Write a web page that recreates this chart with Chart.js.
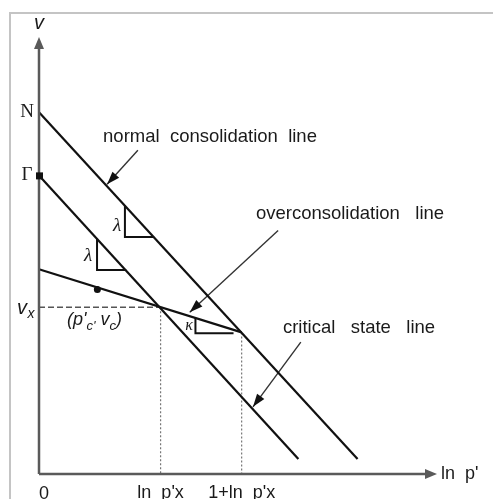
<!DOCTYPE html>
<html>
<head>
<meta charset="utf-8">
<script src="https://cdn.jsdelivr.net/npm/chart.js@4.4.1/dist/chart.umd.min.js"></script>
<style>
  body { margin: 0; background: #fff; }
  canvas { display: block; }
</style>
</head>
<body>
<canvas id="csl" width="493" height="499"></canvas>
<script>
// values: x = ln p', y = specific volume v
var axisMaxX = 4.91, axisMaxV = 5.4
var lnPx = 1.5
var nclX = [0, 3.93], nclV = [4.47, 0.185]        // normal consolidation line
var cslX = [0, 3.2], cslV = [3.69, 0.185]         // critical state line
var oclX = [0, 2.5], oclV = [2.53, 1.75]          // overconsolidation line
var vx = 2.06
var pcX = [0.72], pcV = [2.28]                    // (p'c, vc)
var gammaV = 3.69
// slope triangles
var lamUpX = [1.06, 1.06, 1.42], lamUpV = [3.32, 2.93, 2.93]
var lamLoX = [0.716, 0.716, 1.076], lamLoV = [2.91, 2.52, 2.52]
var kapX = [1.93, 1.93, 2.40], kapV = [1.93, 1.74, 1.74]
// label arrows [fromX, fromV, toX, toV]
var nclArrow = [1.22, 4.0, 0.84, 3.58]
var oclArrow = [2.95, 3.01, 1.86, 2.0]
var cslArrow = [3.23, 1.63, 2.64, 0.83]

function pts(xs, ys) {
  return xs.map(function(x, i) { return {x: x, y: ys[i]} })
}

function lineSet(data, color, width, dash) {
  return {
    data: data,
    showLine: true,
    borderColor: color,
    borderWidth: width,
    borderDash: dash || [],
    pointRadius: 0,
    fill: false,
    clip: false
  }
}

var ink = '#111'
var axisInk = '#5a5a5a'

// frame, arrowheads and all the text
var decor = {
  id: 'decor',
  beforeDraw: function(chart) {
    var ctx = chart.ctx
    ctx.save()
    ctx.strokeStyle = '#c4c4c4'
    ctx.lineWidth = 2
    ctx.beginPath()
    ctx.moveTo(10, 499)
    ctx.lineTo(10, 13)
    ctx.lineTo(493, 13)
    ctx.stroke()
    ctx.restore()
  },
  afterDraw: function(chart) {
    var ctx = chart.ctx
    var sx = chart.scales.x, sy = chart.scales.y
    function X(v) { return sx.getPixelForValue(v) }
    function Y(v) { return sy.getPixelForValue(v) }

    function head(x1, y1, x2, y2, len, wid, color) {
      var a = Math.atan2(y2 - y1, x2 - x1)
      ctx.save()
      ctx.fillStyle = color
      ctx.translate(x2, y2)
      ctx.rotate(a)
      ctx.beginPath()
      ctx.moveTo(0, 0)
      ctx.lineTo(-len, wid / 2)
      ctx.lineTo(-len, -wid / 2)
      ctx.closePath()
      ctx.fill()
      ctx.restore()
    }
    head(X(0), Y(0), X(0), Y(axisMaxV), 12, 10, axisInk)
    head(X(0), Y(0), X(axisMaxX), Y(0), 12, 10, axisInk)
    ;[nclArrow, oclArrow, cslArrow].forEach(function(a) {
      head(X(a[0]), Y(a[1]), X(a[2]), Y(a[3]), 13, 9, ink)
    })

    // Gamma marker and (p'c, vc) dot
    ctx.fillStyle = ink
    ctx.fillRect(X(0) - 3, Y(gammaV) - 3, 7, 7)
    ctx.beginPath()
    ctx.arc(X(pcX[0]), Y(pcV[0]), 3.5, 0, Math.PI * 2)
    ctx.fill()

    function txt(s, x, y, font, align) {
      ctx.font = font
      ctx.textAlign = align || 'center'
      ctx.textBaseline = 'middle'
      ctx.fillText(s, x, y)
    }
    var sans = '"Liberation Sans", Arial, sans-serif'
    var serif = '"Liberation Serif", "Times New Roman", serif'
    ctx.fillStyle = '#1a1a1a'

    txt('v', X(0), 23, 'italic 20px ' + sans)
    txt('N', 27, Y(nclV[0]), '19px ' + serif)
    txt('Γ', 27, Y(gammaV), '19px ' + serif)
    txt('v', 22, Y(vx) + 1, 'italic 20px ' + sans)
    txt('x', 31, Y(vx) + 7, 'italic 14px ' + sans)

    // (p'c, vc)
    ctx.font = 'italic 18px ' + sans
    ctx.textAlign = 'left'
    ctx.textBaseline = 'middle'
    var px = 67, py = 320
    ctx.fillText("(p'", px, py)
    px += ctx.measureText("(p'").width
    ctx.font = 'italic 13px ' + sans
    ctx.fillText("c'", px, py + 6)
    px += ctx.measureText("c'").width + 5
    ctx.font = 'italic 18px ' + sans
    ctx.fillText('v', px, py)
    px += ctx.measureText('v').width
    ctx.font = 'italic 13px ' + sans
    ctx.fillText('c', px, py + 6)
    px += ctx.measureText('c').width
    ctx.font = 'italic 18px ' + sans
    ctx.fillText(')', px, py)

    txt('λ', 117, 226, 'italic 19px ' + serif)
    txt('λ', 88, 256, 'italic 19px ' + serif)
    txt('κ', 189, 326, 'italic 16px ' + serif)

    txt('normal  consolidation  line', 210, 137, '18.5px ' + sans)
    txt('overconsolidation   line', 350, 214, '18.5px ' + sans)
    txt('critical   state   line', 359, 328, '18.5px ' + sans)

    txt('0', X(0) + 5, 494, '18px ' + sans)
    txt("ln  p'x", X(lnPx), 493, '18px ' + sans)
    txt("1+ln  p'x", X(lnPx + 1), 493, '18px ' + sans)
    txt("ln  p'", 441, Y(0), '18px ' + sans, 'left')
  }
}

new Chart('csl', {
  type: 'scatter',
  data: {
    datasets: [
      lineSet(pts([0, axisMaxX - 0.08], [0, 0]), axisInk, 2.5),
      lineSet(pts([0, 0], [0, axisMaxV - 0.08]), axisInk, 2.5),
      lineSet(pts(nclX, nclV), ink, 2.2),
      lineSet(pts(cslX, cslV), ink, 2.2),
      lineSet(pts(oclX, oclV), ink, 2.2),
      lineSet(pts([0, lnPx], [vx, vx]), '#555', 1.5, [6, 3]),
      lineSet(pts([lnPx, lnPx], [vx, 0]), '#777', 1.2, [2, 2]),
      lineSet(pts([lnPx + 1, lnPx + 1], [oclV[1], 0]), '#777', 1.2, [2, 2]),
      lineSet(pts(lamUpX, lamUpV), ink, 2),
      lineSet(pts(lamLoX, lamLoV), ink, 2),
      lineSet(pts(kapX, kapV), ink, 2),
      lineSet(pts([nclArrow[0], nclArrow[2]], [nclArrow[1], nclArrow[3]]), '#333', 1.4),
      lineSet(pts([oclArrow[0], oclArrow[2]], [oclArrow[1], oclArrow[3]]), '#333', 1.4),
      lineSet(pts([cslArrow[0], cslArrow[2]], [cslArrow[1], cslArrow[3]]), '#333', 1.4)
    ]
  },
  options: {
    responsive: false,
    animation: false,
    layout: { padding: { left: 39, right: 56, top: 37, bottom: 25 } },
    scales: {
      x: { type: 'linear', min: 0, max: axisMaxX, display: false },
      y: { type: 'linear', min: 0, max: axisMaxV, display: false }
    },
    plugins: { legend: { display: false }, tooltip: { enabled: false } }
  },
  plugins: [decor]
})
</script>
</body>
</html>
